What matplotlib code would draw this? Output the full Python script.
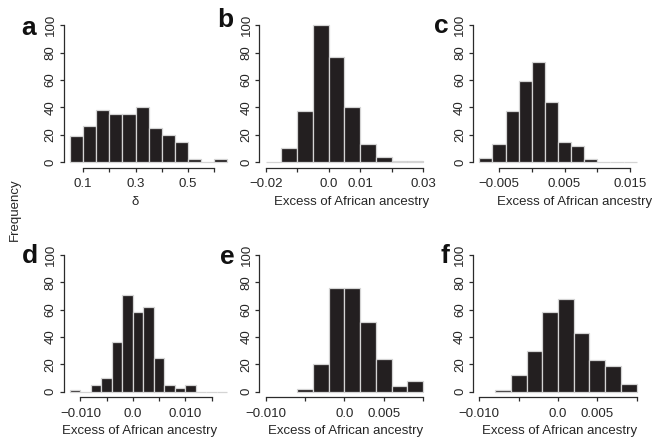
import matplotlib
matplotlib.use('Agg')
import matplotlib.pyplot as plt

plt.rcParams['font.family'] = ['Liberation Sans', 'DejaVu Sans']

# histogram data: first bin edge, bin width, counts per bin
letters = ['a', 'b', 'c', 'd', 'e', 'f']
bin_start = [0.05, -0.02, -0.008, -0.012, -0.006, -0.008]
bin_width = [0.05, 0.005, 0.002, 0.002, 0.002, 0.002]
counts_a = [19, 26, 38, 35, 35, 40, 25, 20, 15, 2, 0, 2]
counts_b = [0, 10, 37, 100, 77, 40, 13, 4, 1, 1]
counts_c = [3, 13, 37, 59, 73, 44, 15, 12, 2, 0, 0, 0]
counts_d = [1, 0, 5, 10, 36, 71, 58, 62, 25, 5, 3, 5, 0, 0, 0]
counts_e = [2, 20, 76, 76, 51, 24, 4, 8]
counts_f = [1, 12, 30, 58, 68, 43, 23, 19, 6]
all_counts = [counts_a, counts_b, counts_c, counts_d, counts_e, counts_f]

# x range of each plot (R adds 4% on each side)
x_range = [(0.05, 0.65), (-0.02, 0.03), (-0.008, 0.016),
           (-0.012, 0.018), (-0.01, 0.01), (-0.01, 0.01)]

x_ticks = [
    [0.1, 0.2, 0.3, 0.4, 0.5, 0.6],
    [-0.02, -0.01, 0.0, 0.01, 0.02, 0.03],
    [-0.005, 0.0, 0.005, 0.01, 0.015],
    [-0.01, -0.005, 0.0, 0.005, 0.01, 0.015],
    [-0.01, -0.005, 0.0, 0.005, 0.01],
    [-0.01, -0.005, 0.0, 0.005, 0.01],
]
x_tick_labels = [
    ['0.1', '', '0.3', '', '0.5', ''],
    ['\u22120.02', '', '0.0', '0.01', '', '0.03'],
    ['\u22120.005', '', '0.005', '', '0.015'],
    ['\u22120.010', '', '0.0', '', '0.010', ''],
    ['\u22120.010', '', '0.0', '0.005', ''],
    ['\u22120.010', '', '0.0', '0.005', ''],
]
x_labels = ['\u03b4'] + ['Excess of African ancestry'] * 5
y_ticks = [0, 20, 40, 60, 80, 100]

W, H = 652, 442
fig = plt.figure(figsize=(W / 100, H / 100), dpi=100)

col_left = [63.7, 259.4, 473.0]
row_bottom = [167.5, 397.2]
ax_w, ax_h = 170.0, 147.7

# where the x labels and panel letters sit (pixels)
xlabel_cx = [135, 352, 575, 140, 346, 560]
letter_pos = [(29, 35), (225.5, 27), (441, 33), (30, 263), (227, 264), (445, 263)]

txt_col = '#262626'
bar_col = '#231f20'

for i in range(6):
    r, c = divmod(i, 3)
    left = col_left[c]
    bottom = row_bottom[r]
    ax = fig.add_axes([left / W, 1 - bottom / H, ax_w / W, ax_h / H])

    counts = all_counts[i]
    edges = [bin_start[i] + k * bin_width[i] for k in range(len(counts))]
    ax.bar(edges, counts, width=bin_width[i], align='edge',
           color=bar_col, edgecolor='#d4d4d4', linewidth=0.9)

    lo, hi = x_range[i]
    ext = (hi - lo) * 0.04
    ax.set_xlim(lo - ext, hi + ext)
    ax.set_ylim(-4, 104)

    for s in ['top', 'right']:
        ax.spines[s].set_visible(False)
    for s in ['left', 'bottom']:
        ax.spines[s].set_color('#2b2b2b')
        ax.spines[s].set_linewidth(0.9)
    ax.spines['bottom'].set_bounds(x_ticks[i][0], x_ticks[i][-1])
    ax.spines['left'].set_bounds(0, 100)

    ax.set_xticks(x_ticks[i])
    ax.set_xticklabels(x_tick_labels[i])
    ax.set_yticks(y_ticks)
    ax.set_yticklabels([str(v) for v in y_ticks], rotation=90, va='center')
    ax.tick_params(axis='both', direction='out', length=3, width=0.9,
                   color='#2b2b2b', labelcolor=txt_col, labelsize=9.5)
    ax.tick_params(axis='x', pad=4.5)
    ax.tick_params(axis='y', pad=2)

    ax.set_xlabel(x_labels[i], fontsize=9.5, color=txt_col)
    ax.xaxis.set_label_coords((xlabel_cx[i] - left) / ax_w, -0.19)

    lx, ly = letter_pos[i]
    fig.text(lx / W, 1 - ly / H, letters[i], fontsize=19, fontweight='bold',
             ha='center', va='baseline', color='#111111')

fig.text(15 / W, 1 - 210 / H, 'Frequency', rotation=90, fontsize=9.5,
         ha='center', va='center', color=txt_col)

fig.savefig('out.png', dpi=100)
